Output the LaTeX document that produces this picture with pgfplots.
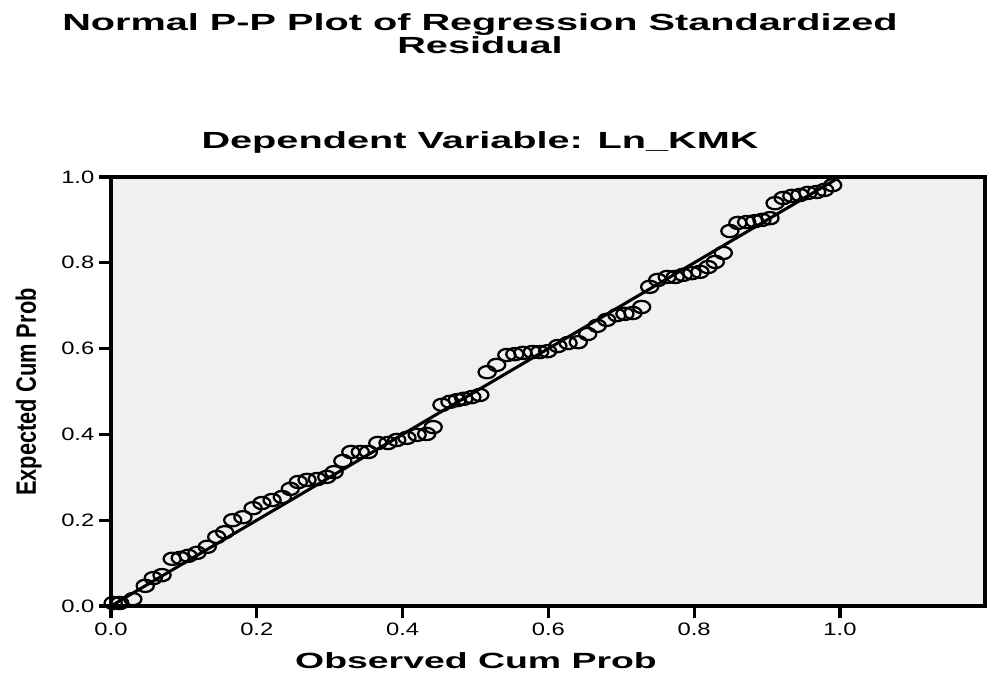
\documentclass[border=0pt]{standalone}
\usepackage{graphicx}
\usepackage{pgfplots}
\pgfplotsset{compat=1.18}
\usepackage{fontspec}
\setmainfont{Liberation Sans}
\definecolor{plotbg}{HTML}{F0F0F0}
\newcommand\tl[1]{\scalebox{1.32}[1]{#1}}
\pgfplotstableread{
x y
0.003 0.007
0.012 0.007
0.030 0.016
0.047 0.047
0.058 0.065
0.070 0.072
0.084 0.110
0.095 0.112
0.106 0.117
0.118 0.124
0.132 0.138
0.145 0.161
0.156 0.172
0.167 0.200
0.181 0.207
0.195 0.228
0.207 0.240
0.221 0.247
0.235 0.254
0.246 0.273
0.257 0.289
0.269 0.294
0.283 0.296
0.296 0.301
0.306 0.312
0.318 0.338
0.329 0.359
0.342 0.359
0.353 0.359
0.366 0.380
0.380 0.380
0.392 0.387
0.406 0.392
0.420 0.399
0.433 0.401
0.442 0.417
0.454 0.469
0.465 0.476
0.475 0.480
0.484 0.483
0.495 0.487
0.506 0.492
0.516 0.545
0.529 0.562
0.543 0.585
0.554 0.587
0.565 0.590
0.578 0.592
0.588 0.592
0.599 0.594
0.613 0.606
0.627 0.613
0.641 0.615
0.654 0.634
0.667 0.653
0.680 0.667
0.694 0.678
0.705 0.681
0.716 0.683
0.728 0.697
0.739 0.744
0.750 0.760
0.763 0.767
0.774 0.767
0.785 0.772
0.797 0.776
0.808 0.779
0.819 0.790
0.829 0.802
0.840 0.823
0.849 0.874
0.860 0.893
0.872 0.895
0.883 0.897
0.893 0.900
0.904 0.904
0.911 0.939
0.922 0.951
0.934 0.956
0.945 0.958
0.956 0.963
0.968 0.965
0.979 0.970
0.990 0.981
}\pp
\begin{document}
\begin{tikzpicture}
\useasboundingbox (-83.25pt,-51.75pt) rectangle (657.75pt,454.5pt);
\begin{axis}[
  at={(0pt,0pt)}, anchor=south west,
  scale only axis, width=655.5pt, height=321.75pt,
  xmin=0, xmax=1.199, ymin=0, ymax=1,
  axis background/.style={fill=plotbg},
  axis line style={line width=2.4pt},
  xtick={0,0.2,0.4,0.6,0.8,1},
  xticklabels={\tl{0.0},\tl{0.2},\tl{0.4},\tl{0.6},\tl{0.8},\tl{1.0}},
  ytick={0,0.2,0.4,0.6,0.8,1},
  yticklabels={\tl{0.0},\tl{0.2},\tl{0.4},\tl{0.6},\tl{0.8},\tl{1.0}},
  tick pos=left, tick align=outside, major tick length=9pt,
  every tick/.style={black, line width=2.4pt},
  ticklabel style={font=\fontsize{13.5}{15}\selectfont},
  clip=false,
]
\addplot[black, line width=2.3pt] coordinates {(0,0) (1,1)};
\addplot[only marks, mark=o, mark size=4.6pt,
  mark options={xscale=1.4, line width=1.7pt, black}] table {\pp};
\end{axis}
\node[anchor=base] at (276.75pt,431.25pt) {\fontsize{17.5}{20}\selectfont\scalebox{1.7}[1]{\bfseries Normal P-P Plot of Regression Standardized}};
\node[anchor=base] at (276.75pt,414pt) {\fontsize{17.5}{20}\selectfont\scalebox{1.7}[1]{\bfseries Residual}};
\node[anchor=base] at (276.75pt,342.75pt) {\fontsize{17.5}{20}\selectfont\scalebox{1.7}[1]{\bfseries Dependent Variable: Ln\_KMK}};
\node[anchor=base] at (273.75pt,-46.5pt) {\fontsize{16.5}{20}\selectfont\scalebox{1.7}[1]{\bfseries Observed Cum Prob}};
\node[anchor=base, rotate=90] at (-56.25pt,160.5pt) {\fontsize{21}{24}\selectfont\scalebox{0.78}[1]{\bfseries Expected Cum Prob}};
\end{tikzpicture}
\end{document}
